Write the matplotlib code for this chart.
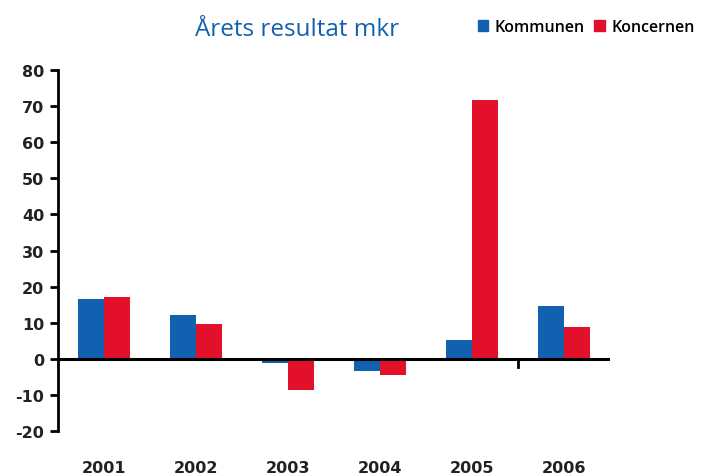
import matplotlib
matplotlib.use("Agg")
import matplotlib.pyplot as plt
from matplotlib.patches import Patch
import numpy as np

years = ["2001", "2002", "2003", "2004", "2005", "2006"]
kommunen = [16.7, 12.0, -1.1, -3.3, 5.3, 14.7]
koncernen = [17.0, 9.7, -8.6, -4.4, 71.7, 8.9]
yticks = [-20, -10, 0, 10, 20, 30, 40, 50, 60, 70, 80]

BLUE = "#1161b0"
RED = "#e3102b"
TXT = "#222222"

plt.rcParams['font.family'] = ['DejaVu Sans']

fig = plt.figure(figsize=(7.01, 4.77), dpi=100)
ax = fig.add_axes([58/701, 1-432/477, (610-58)/701, (432-71)/477])

x = np.arange(len(years))
w = 0.28
ax.bar(x - w/2, kommunen, width=w, color=BLUE, zorder=2)
ax.bar(x + w/2, koncernen, width=w, color=RED, zorder=2)

ax.set_xlim(-0.5, 5.5)
ax.set_ylim(-20, 80)
ax.set_yticks(yticks)
ax.set_yticklabels([str(t) for t in yticks], fontsize=11.5, fontweight='bold', color=TXT)
ax.tick_params(axis='y', direction='out', length=6, width=2, color='black', pad=4)

ax.set_xticks(x)
ax.set_xticklabels(years, fontsize=11.5, fontweight='bold', color=TXT)
ax.tick_params(axis='x', length=0, pad=21)

for s in ['top', 'right', 'bottom']:
    ax.spines[s].set_visible(False)
ax.spines['left'].set_linewidth(2)
ax.spines['left'].set_color('black')

ax.axhline(0, color='black', linewidth=2.2, zorder=3)
ax.plot([4.5, 4.5], [0, -2.3], color='black', linewidth=2, zorder=3, clip_on=False)

fig.text(297/701, 1-30/477, "Årets resultat mkr", ha='center', va='center',
         fontsize=17.5, color=BLUE, family=['Open Sans', 'DejaVu Sans'])

handles = [Patch(color=BLUE, label="Kommunen"), Patch(color=RED, label="Koncernen")]
fig.legend(handles=handles, loc='center right', bbox_to_anchor=(1.0, 1-28/477),
           ncol=2, frameon=False, handlelength=0.65, handleheight=0.65,
           handletextpad=0.4, columnspacing=0.6, borderaxespad=0.0,
           prop={'size': 11.5, 'weight': 'semibold', 'family': ['Open Sans', 'DejaVu Sans']})

fig.savefig("out.png", dpi=100)
